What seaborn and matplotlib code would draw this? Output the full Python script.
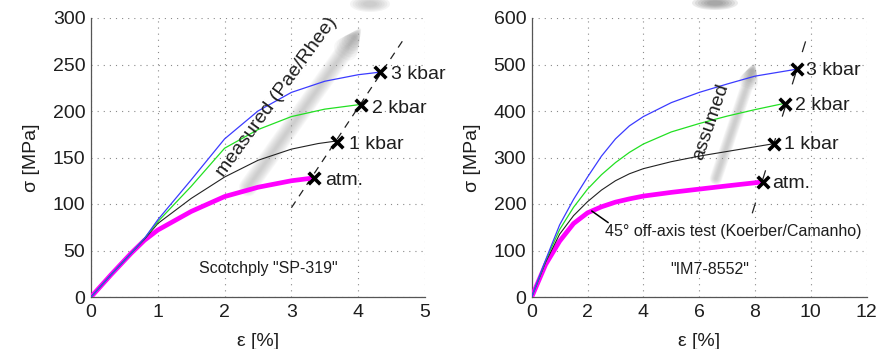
import numpy as np
import pandas as pd
import matplotlib
matplotlib.use("Agg")
import matplotlib.pyplot as plt
from matplotlib.patches import Ellipse
import seaborn as sns

# ---------------- data ----------------
pressures = ["atm.", "1 kbar", "2 kbar", "3 kbar"]

# Left panel: Scotchply "SP-319"
sp_atm_strain = [0, 0.3, 0.6, 0.8, 1.0, 1.5, 2.0, 2.5, 3.0, 3.33]
sp_atm_stress = [0, 24, 47, 61, 72, 92, 108, 118, 125, 128]
sp_1k_strain = [0, 0.3, 0.6, 0.8, 1.0, 1.5, 2.0, 2.5, 3.0, 3.4, 3.7]
sp_1k_stress = [0, 24, 47, 62, 79, 106, 129, 147, 159, 165, 168]
sp_2k_strain = [0, 0.3, 0.6, 0.8, 1.0, 1.5, 2.0, 2.5, 3.0, 3.5, 4.03]
sp_2k_stress = [0, 24, 47, 63, 81, 119, 160, 180, 194, 202, 207]
sp_3k_strain = [0, 0.3, 0.6, 0.8, 1.0, 1.5, 2.0, 2.5, 3.0, 3.5, 4.0, 4.35]
sp_3k_stress = [0, 24, 47, 63, 83, 126, 170, 200, 220, 232, 239, 242]
sp_fail_strain = [3.34, 3.69, 4.04, 4.33]
sp_fail_stress = [128, 167, 206, 242]
sp_dash_strain = [3.0, 4.67]
sp_dash_stress = [96, 276]
sp_arrow_strain = [2.35, 4.05]
sp_arrow_stress = [118, 290]

# Right panel: IM7-8552
im_atm_strain = [0, 0.5, 1.0, 1.5, 2.0, 2.5, 3.0, 3.5, 4.0, 5.0, 6.0, 7.0, 8.2]
im_atm_stress = [0, 70, 120, 158, 181, 194, 204, 211, 217, 225, 232, 239, 247]
im_1k_strain = [0, 0.5, 1.0, 1.5, 2.0, 2.5, 3.0, 3.5, 4.0, 5.0, 6.0, 7.0, 8.0, 8.7]
im_1k_stress = [0, 75, 135, 175, 205, 230, 250, 265, 276, 291, 303, 313, 323, 330]
im_2k_strain = [0, 0.5, 1.0, 1.5, 2.0, 2.5, 3.0, 3.5, 4.0, 5.0, 6.0, 7.0, 8.0, 9.1]
im_2k_stress = [0, 78, 145, 193, 232, 263, 289, 311, 329, 355, 373, 389, 403, 417]
im_3k_strain = [0, 0.5, 1.0, 1.5, 2.0, 2.5, 3.0, 3.5, 4.0, 5.0, 6.0, 7.0, 8.0, 9.5]
im_3k_stress = [0, 80, 155, 210, 258, 303, 340, 368, 388, 418, 440, 458, 475, 490]
im_fail_strain = [8.27, 8.69, 9.07, 9.49]
im_fail_stress = [248, 330, 414, 490]
im_dash_strain = [7.9, 9.9]
im_dash_stress = [180, 567]
im_arrow_strain = [6.6, 8.0]
im_arrow_stress = [255, 505]
im_pointer_strain = [2.15, 2.74]
im_pointer_stress = [185, 160]

sp_xticks = [0, 1, 2, 3, 4, 5]
sp_yticks = [0, 50, 100, 150, 200, 250, 300]
im_xticks = [0, 2, 4, 6, 8, 10, 12]
im_yticks = [0, 100, 200, 300, 400, 500, 600]

# blurred shadow blobs above the plots (figure pixel centre, size, colour)
blob_centers = [(370, 4), (715, 3)]
blob_sizes = [(40, 16), (46, 14)]
blob_colors = ["#a8a8a8", "#606060"]

# ---------------- styling ----------------
sns.set_style("white")
plt.rcParams["font.family"] = ["Liberation Sans", "DejaVu Sans"]
TXT = "#1e1e1e"
palette = {"atm.": "#ff00ff", "1 kbar": "#222222", "2 kbar": "#22e022", "3 kbar": "#3b3bff"}
widths = {"atm.": 3.4, "1 kbar": 0.8, "2 kbar": 0.9, "3 kbar": 0.9}

W, H = 884, 349


def long_df(strains, stresses):
    rows = []
    for p, xs, ys in zip(pressures, strains, stresses):
        for x, y in zip(xs, ys):
            rows.append({"strain": x, "stress": y, "pressure": p})
    return pd.DataFrame(rows)


def blur_arrow(ax, xs, ys, maxw, color):
    for lw in np.linspace(maxw, 2, 8):
        ax.annotate("", xy=(xs[1], ys[1]), xytext=(xs[0], ys[0]),
                    arrowprops=dict(arrowstyle="-|>,head_length=0.5,head_width=0.25",
                                    color=color, lw=lw, alpha=0.07,
                                    shrinkA=0, shrinkB=0),
                    zorder=1, annotation_clip=False)


def style_axes(ax, xlim, ylim, xticks, yticks):
    ax.set_xlim(*xlim)
    ax.set_ylim(*ylim)
    ax.set_xticks(xticks)
    ax.set_yticks(yticks)
    ax.grid(True, linestyle=(0, (1, 4.5)), color="#8a8a8a", linewidth=0.8)
    ax.set_axisbelow(True)
    for s in ["top", "right"]:
        ax.spines[s].set_visible(False)
    for s in ["left", "bottom"]:
        ax.spines[s].set_color("#555555")
        ax.spines[s].set_linewidth(0.9)
    ax.tick_params(direction="in", length=3, width=0.8, color="#555555",
                   labelsize=14, labelcolor=TXT)
    ax.tick_params(axis="x", pad=5)
    ax.tick_params(axis="y", pad=4)
    ax.set_xlabel("ε [%]", fontsize=14, color=TXT, labelpad=9)
    ax.set_ylabel("σ [MPa]", fontsize=14, color=TXT, labelpad=9)


fig = plt.figure(figsize=(8.84, 3.49), dpi=100)
ax1 = fig.add_axes([91 / W, 52 / H, 334 / W, 279 / H])
ax2 = fig.add_axes([531.7 / W, 52 / H, 335 / W, 279 / H])

for (cx, cy), (bw, bh), col in zip(blob_centers, blob_sizes, blob_colors):
    for k in np.linspace(1.0, 0.35, 6):
        fig.patches.append(Ellipse((cx / W, 1 - cy / H), bw * k / W, bh * k / H,
                                   transform=fig.transFigure, facecolor=col,
                                   edgecolor="none", alpha=0.12))

# ---------------- left panel ----------------
df1 = long_df([sp_atm_strain, sp_1k_strain, sp_2k_strain, sp_3k_strain],
              [sp_atm_stress, sp_1k_stress, sp_2k_stress, sp_3k_stress])
blur_arrow(ax1, sp_arrow_strain, sp_arrow_stress, 13, "#9a9a9a")
sns.lineplot(data=df1, x="strain", y="stress", hue="pressure", size="pressure",
             palette=palette, sizes=widths, sort=False, estimator=None,
             legend=False, ax=ax1, zorder=3)
ax1.plot(sp_dash_strain, sp_dash_stress, color="#222222", lw=0.9,
         linestyle=(0, (6, 5)), zorder=2)
sns.scatterplot(x=sp_fail_strain, y=sp_fail_stress, marker="x", s=70,
                linewidth=2.6, color="black", ax=ax1, zorder=5, legend=False)
for p, x, y in zip(pressures, sp_fail_strain, sp_fail_stress):
    ax1.annotate(p, (x, y), xytext=(8, -2), textcoords="offset points",
                 va="center", ha="left", fontsize=14, color=TXT, zorder=6,
                 annotation_clip=False)
ax1.text(2.78, 215, "measured (Pae/Rhee)", rotation=54, rotation_mode="anchor",
         ha="center", va="center", fontsize=14, color=TXT, zorder=6)
ax1.text(2.65, 31, 'Scotchply "SP-319"', ha="center", va="center",
         fontsize=11.5, color=TXT)
style_axes(ax1, (0, 5), (0, 300), sp_xticks, sp_yticks)

# ---------------- right panel ----------------
df2 = long_df([im_atm_strain, im_1k_strain, im_2k_strain, im_3k_strain],
              [im_atm_stress, im_1k_stress, im_2k_stress, im_3k_stress])
blur_arrow(ax2, im_arrow_strain, im_arrow_stress, 9, "#9a9a9a")
sns.lineplot(data=df2, x="strain", y="stress", hue="pressure", size="pressure",
             palette=palette, sizes=widths, sort=False, estimator=None,
             legend=False, ax=ax2, zorder=3)
ax2.plot(im_dash_strain, im_dash_stress, color="#222222", lw=0.9,
         linestyle=(0, (9, 18)), zorder=2)
sns.scatterplot(x=im_fail_strain, y=im_fail_stress, marker="x", s=70,
                linewidth=2.6, color="black", ax=ax2, zorder=5, legend=False)
for p, x, y in zip(pressures, im_fail_strain, im_fail_stress):
    ax2.annotate(p, (x, y), xytext=(7, -1), textcoords="offset points",
                 va="center", ha="left", fontsize=14, color=TXT, zorder=6,
                 annotation_clip=False)
ax2.text(6.41, 377, "assumed", rotation=71, rotation_mode="anchor",
         ha="center", va="center", fontsize=14, color=TXT, zorder=6)
ax2.plot(im_pointer_strain, im_pointer_stress, color="black", lw=1.1, zorder=4)
ax2.text(2.62, 140, "45° off-axis test (Koerber/Camanho)", ha="left",
         va="center", fontsize=11.5, color=TXT)
ax2.text(6.36, 60, '"IM7-8552"', ha="center", va="center", fontsize=11.5,
         color=TXT)
style_axes(ax2, (0, 12), (0, 600), im_xticks, im_yticks)

fig.savefig("out.png", dpi=100)
